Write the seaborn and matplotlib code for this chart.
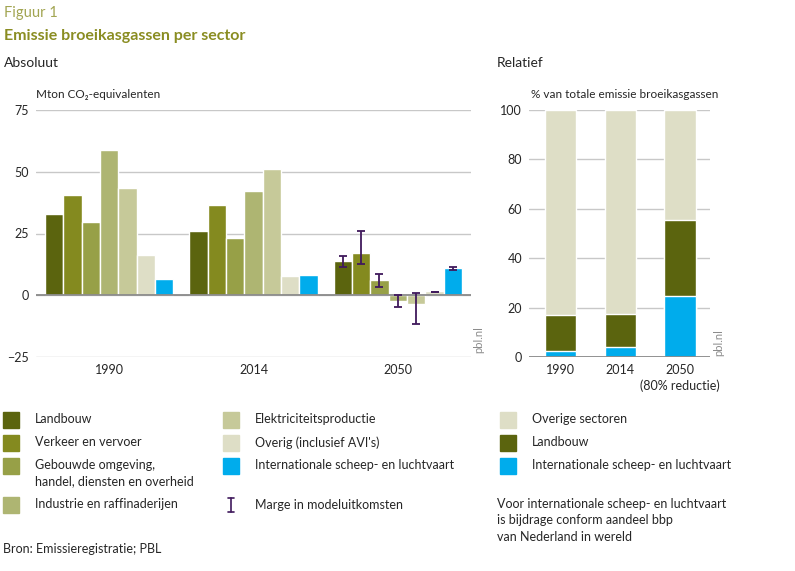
"""
Emissie broeikasgassen per sector (PBL figuur 1)
absoluut (Mton CO2-eq) en relatief (% van totaal)
"""

import numpy as np
import pandas as pd
import matplotlib
matplotlib.use('Agg')
import matplotlib.pyplot as plt
from matplotlib.patches import Rectangle
from matplotlib.lines import Line2D
import seaborn as sns

# ---- data: absoluut ----
jaren = ['1990', '2014', '2050']
sectoren = [
    'Landbouw',
    'Verkeer en vervoer',
    'Gebouwde omgeving,\nhandel, diensten en overheid',
    'Industrie en raffinaderijen',
    'Elektriciteitsproductie',
    "Overig (inclusief AVI's)",
    'Internationale scheep- en luchtvaart',
]
landbouw = [32.7, 26.2, 13.7]
verkeer = [40.7, 36.7, 17.3]
gebouwde = [29.8, 23.0, 6.0]
industrie = [58.9, 42.3, -2.3]
elektriciteit = [43.5, 51.2, -3.5]
overig = [16.1, 7.7, 1.6]
internationaal = [6.5, 8.1, 10.9]

# marge in modeluitkomsten 2050 (laag, hoog) per sector
marge_laag = [11.6, 12.8, 3.5, -4.6, -11.8, 1.3, 10.3]
marge_hoog = [16.0, 26.1, 8.7, 0.3, 0.9, 1.4, 11.6]

# ---- data: relatief ----
rel_labels = ['1990', '2014', '2050\n(80% reductie)']
rel_internationaal = [2.4, 4.0, 24.6]
rel_landbouw = [14.6, 13.4, 30.7]
rel_overige = [83.0, 82.6, 44.7]

kleuren = ['#5b640e', '#848a1f', '#97a047', '#aeb572', '#c6c999', '#dedec6', '#00acec']
kleur_marge = '#40195c'
titel_kleur = '#8a8d22'

W, H = 795, 571


def px(x, y):
    """pixelpositie (vanaf linksboven) naar figuurfractie"""
    return x / W, 1 - y / H


sns.set_style('white')
plt.rcParams['font.family'] = ['Lato', 'DejaVu Sans']
plt.rcParams['font.size'] = 9

fig = plt.figure(figsize=(W / 100, H / 100), dpi=100)

# ================= absoluut =================
ax1 = fig.add_axes([36 / W, 1 - 357 / H, (471 - 36) / W, (357 - 110) / H])

reeksen = [landbouw, verkeer, gebouwde, industrie, elektriciteit, overig, internationaal]
df = pd.DataFrame({
    'jaar': np.repeat([jaren], len(sectoren), axis=0).ravel(),
    'sector': np.repeat(sectoren, len(jaren)),
    'waarde': np.concatenate(reeksen),
})
sns.barplot(data=df, x='jaar', y='waarde', hue='sector', hue_order=sectoren,
            order=jaren, palette=kleuren, width=0.89, gap=0, saturation=1,
            legend=False, ax=ax1)

# foutmarges voor 2050
for cont, lo, hi in zip(ax1.containers, marge_laag, marge_hoog):
    bar = cont.patches[2]
    xc = bar.get_x() + bar.get_width() / 2
    mid = (lo + hi) / 2
    ax1.errorbar(xc, mid, yerr=[[mid - lo], [hi - mid]], fmt='none',
                 ecolor=kleur_marge, elinewidth=1.3, capsize=3, capthick=1.3, zorder=5)

ax1.set_xlim(-0.507, 2.507)
ax1.set_ylim(-25, 75)
ax1.set_yticks([-25, 0, 25, 50, 75])
ax1.yaxis.grid(True, color='#c8c8c8', linewidth=1)
ax1.set_axisbelow(True)
ax1.axhline(0, color='#8a8a8a', linewidth=1.3, zorder=4)
ax1.set_xlabel('')
ax1.set_ylabel('')
sns.despine(ax=ax1, left=True, bottom=True)
ax1.tick_params(length=0, labelsize=9)
ax1.tick_params(axis='y', pad=5)
ax1.tick_params(axis='x', pad=5)

# ================= relatief =================
ax2 = fig.add_axes([529 / W, 1 - 357 / H, (710 - 529) / W, (357 - 110) / H])

tot_landbouw = np.add(rel_internationaal, rel_landbouw)
tot_overige = tot_landbouw + np.array(rel_overige)
sns.barplot(x=rel_labels, y=tot_overige, color=kleuren[5], width=0.52, saturation=1, ax=ax2)
sns.barplot(x=rel_labels, y=tot_landbouw, color=kleuren[0], width=0.52, saturation=1, ax=ax2)
sns.barplot(x=rel_labels, y=rel_internationaal, color=kleuren[6], width=0.52, saturation=1, ax=ax2)

ax2.set_xlim(-0.52, 2.5)
ax2.set_ylim(0, 100)
ax2.set_yticks([0, 20, 40, 60, 80, 100])
ax2.yaxis.grid(True, color='#c8c8c8', linewidth=1)
ax2.set_axisbelow(True)
ax2.axhline(0, color='#8a8a8a', linewidth=1.3, zorder=4)
sns.despine(ax=ax2, left=True, bottom=True)
ax2.tick_params(length=0, labelsize=9)
ax2.tick_params(axis='y', pad=5)
ax2.tick_params(axis='x', pad=5)
for lbl in ax2.get_xticklabels():
    lbl.set_verticalalignment('top')
    lbl.set_linespacing(1.35)

# ================= teksten =================
fig.text(*px(4, 13), 'Figuur 1', color='#a2a552', fontsize=10.5, va='center')
fig.text(*px(4, 36), 'Emissie broeikasgassen per sector', color=titel_kleur,
         fontsize=11.5, fontweight='bold', va='center')
fig.text(*px(4, 63), 'Absoluut', fontsize=10, va='center')
fig.text(*px(497, 63), 'Relatief', fontsize=10, va='center')
fig.text(*px(36, 95), 'Mton CO\u2082-equivalenten', fontsize=8.5, va='center')
fig.text(*px(531, 94), '% van totale emissie broeikasgassen', fontsize=8.5, va='center')
fig.text(*px(479, 340), 'pbl.nl', rotation=90, color='#8c8c8c', fontsize=8,
         ha='center', va='center')
fig.text(*px(719, 343), 'pbl.nl', rotation=90, color='#8c8c8c', fontsize=8,
         ha='center', va='center')

# ================= legenda =================
sw = 16


def vakje(x, y, kleur, tekst):
    fig.add_artist(Rectangle(px(x, y + sw / 2), sw / W, sw / H, color=kleur,
                             transform=fig.transFigure))
    fig.text(*px(x + 32, y - 7), tekst, fontsize=9, va='top', linespacing=1.45)


for y, i in [(420, 0), (443, 1), (466, 2), (505, 3)]:
    vakje(3, y, kleuren[i], sectoren[i])
for y, i in [(420, 4), (443, 5), (466, 6)]:
    vakje(223, y, kleuren[i], sectoren[i])
vakje(500, 420, kleuren[5], 'Overige sectoren')
vakje(500, 443, kleuren[0], 'Landbouw')
vakje(500, 466, kleuren[6], 'Internationale scheep- en luchtvaart')

# marge-symbool
mx = 231
for yy in (498, 512):
    fig.add_artist(Line2D([(mx - 3) / W, (mx + 3) / W], [1 - yy / H] * 2,
                          color=kleur_marge, linewidth=1.2, transform=fig.transFigure))
fig.add_artist(Line2D([mx / W, mx / W], [1 - 498 / H, 1 - 512 / H],
                      color=kleur_marge, linewidth=1.2, transform=fig.transFigure))
fig.text(*px(255, 505), 'Marge in modeluitkomsten', fontsize=9, va='center')

fig.text(*px(497, 498), 'Voor internationale scheep- en luchtvaart\n'
         'is bijdrage conform aandeel bbp\nvan Nederland in wereld',
         fontsize=9, va='top', linespacing=1.45)
fig.text(*px(3, 549), 'Bron: Emissieregistratie; PBL', fontsize=9, va='center')

fig.savefig('out.png', dpi=100)
plt.close(fig)
